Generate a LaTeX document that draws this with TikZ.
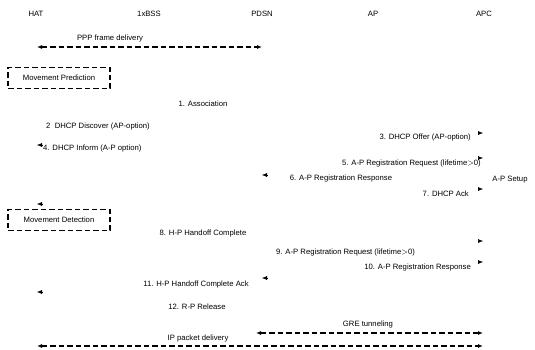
\documentclass[tikz,border=0pt]{standalone}
\usepackage{fontspec}
\setmainfont{Liberation Sans}
\usetikzlibrary{arrows.meta, positioning}

\begin{document}
\begin{tikzpicture}[
    x=1pt, y=-1pt,
    every node/.style={font=\fontsize{7.7}{9}\selectfont, inner sep=1pt},
    flow/.style={line width=1.3pt, dash pattern=on 5.5pt off 3pt, {Latex[length=5pt,width=4pt]}-{Latex[length=5pt,width=4pt]}},
    tip/.style={-{Latex[length=5pt,width=4pt]}, line width=0.5pt},
    mbox/.style={draw, line width=1.3pt, dash pattern=on 5.5pt off 3pt, minimum width=102pt, minimum height=21pt}
]
\useasboundingbox (0,0) rectangle (535,349);

% -- entities --
\node (hat) at (36,14) {HAT};
\node (bss) at (149,14) {1xBSS};
\node (pdsn) at (262,14) {PDSN};
\node (ap) at (373,14) {AP};
\node (apc) at (484,14) {APC};

% -- PPP --
\coordinate (pppL) at (37,47);
\coordinate (pppR) at (262,47);
\node (ppp) at (110,39) {PPP frame delivery};
\draw[flow] (pppL) -- (pppR);

\node[mbox] (pred) at (59,78) {Movement Prediction};

% -- A-P setup --
\node (m1) at (203,104) {1. Association};
\node (m2) at (98,127) {2\ \ DHCP Discover (AP-option)};
\node[anchor=east] (m3) at (472,138) {3. DHCP Offer (AP-option)};
\node[anchor=west] (m4) at (42,149) {4. DHCP Inform (A-P option)};
\node[anchor=east] (m5) at (482,164) {5. A-P Registration Request (lifetime$>$0)};
\node (m6) at (341,179) {6. A-P Registration Response};
\node (setup) at (510,180) {A-P Setup};
\node[anchor=east] (m7) at (470,194) {7. DHCP Ack};

\coordinate (h3) at (483,133);
\coordinate (h4) at (37,145);
\coordinate (h5) at (483,158);
\coordinate (h6) at (262,175);
\coordinate (h7) at (483,189);
\coordinate (hx) at (37,204);
\draw[tip] ([xshift=-5pt]h3) -- (h3);
\draw[tip] ([xshift=5pt]h4) -- (h4);
\draw[tip] ([xshift=-5pt]h5) -- (h5);
\draw[tip] ([xshift=5pt]h6) -- (h6);
\draw[tip] ([xshift=-5pt]h7) -- (h7);
\draw[tip] ([xshift=5pt]hx) -- (hx);

\node[mbox] (detect) at (59,220) {Movement Detection};

% -- handoff --
\node (m8) at (203,234) {8. H-P Handoff Complete};
\node[anchor=west] (m9) at (275,253) {9. A-P Registration Request (lifetime$>$0)};
\node[anchor=east] (m10) at (472,268) {10. A-P Registration Response};
\node (m11) at (196,285) {11. H-P Handoff Complete Ack};
\node (m12) at (197,307) {12. R-P Release};

\coordinate (h8) at (483,241);
\coordinate (h9) at (483,262);
\coordinate (h10) at (262,278);
\coordinate (h11) at (37,292);
\draw[tip] ([xshift=-5pt]h8) -- (h8);
\draw[tip] ([xshift=-5pt]h9) -- (h9);
\draw[tip] ([xshift=5pt]h10) -- (h10);
\draw[tip] ([xshift=5pt]h11) -- (h11);

% -- data path --
\coordinate (greL) at (256,333);
\coordinate (greR) at (483,333);
\coordinate (ipL) at (37,346);
\coordinate (ipR) at (483,346);
\node (gre) at (368,325) {GRE tunneling};
\node (ip) at (198,338) {IP packet delivery};
\draw[flow] (greL) -- (greR);
\draw[flow] (ipL) -- (ipR);

\end{tikzpicture}
\end{document}
